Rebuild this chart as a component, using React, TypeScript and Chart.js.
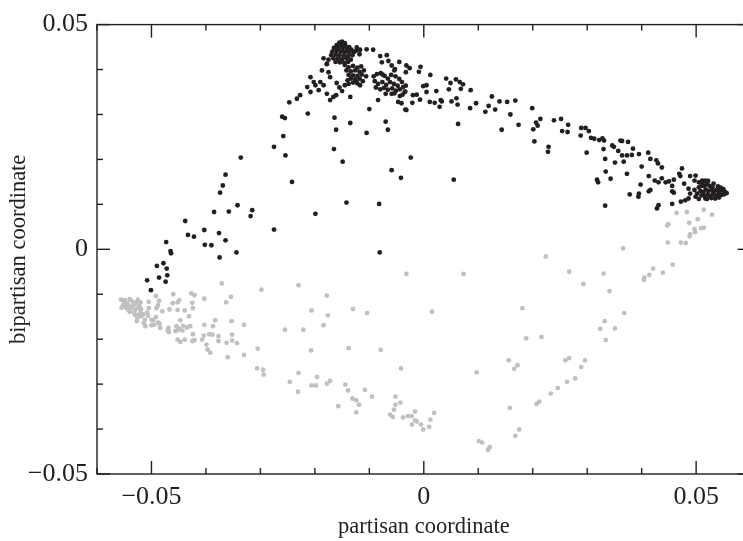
import { useEffect, useRef } from "react";
import { Chart, registerables } from "chart.js";

Chart.register(...registerables);

const xAxisTitle = "partisan coordinate";
const yAxisTitle = "bipartisan coordinate";
const xRange = [-0.06, 0.06];
const yRange = [-0.05, 0.05];
const xLabelTicks = [-0.05, 0, 0.05];
const yLabelTicks = [-0.05, 0, 0.05];
const xMarkTicks = [-0.06, -0.05, -0.04, -0.03, -0.02, -0.01, 0, 0.01, 0.02, 0.03, 0.04, 0.05, 0.06];
const yMarkTicks = [-0.05, -0.04, -0.03, -0.02, -0.01, 0, 0.01, 0.02, 0.03, 0.04, 0.05];

// upper (black) group
const upperArc: [number, number][] = [
  [-0.0213, 0.0302], [-0.026, 0.0295], [-0.0255, 0.0292], [-0.0258, 0.0252], [-0.0275, 0.0228], [-0.0254, 0.0209],
  [-0.0336, 0.0204], [-0.0364, 0.0166], [-0.0369, 0.0142], [-0.0374, 0.0126], [-0.0242, 0.015], [-0.0342, 0.0098],
  [-0.0385, 0.0083], [-0.0358, 0.0084], [-0.0315, 0.0087], [-0.0318, 0.0074], [-0.0438, 0.0063], [-0.0275, 0.0044],
  [-0.0433, 0.0032], [-0.0422, 0.0028], [-0.0403, 0.0043], [-0.0376, 0.0036], [-0.0364, 0.002], [-0.0402, 0.001],
  [-0.039, 0.0009], [-0.0344, -0.0007], [-0.0375, -0.0018], [-0.0473, 0.0016], [-0.0465, -0.0004], [-0.0464, -0.0009],
  [-0.0478, -0.0031], [-0.049, -0.0037], [-0.0472, -0.0043], [-0.0471, -0.0058], [-0.0486, -0.0063], [-0.0508, -0.0069],
  [-0.0474, -0.0072], [-0.0501, -0.0091],
  [-0.0081, -0.0007], [-0.0082, 0.0101], [-0.0142, 0.0104], [-0.0199, 0.0079], [-0.0059, 0.0176], [-0.0042, 0.0159],
  [-0.0024, 0.0204], [-0.0149, 0.0195], [-0.0165, 0.0223], [-0.0161, 0.0266], [-0.0105, 0.0259], [-0.0066, 0.0266],
  [-0.0164, 0.0293], [-0.0135, 0.0281], [-0.007, 0.0284], [-0.01, 0.0312], [-0.0247, 0.0327], [-0.0233, 0.0335],
  [-0.0227, 0.0343], [-0.0208, 0.0383], [-0.0202, 0.0372], [-0.0199, 0.0365], [-0.019, 0.0372], [-0.0184, 0.0365],
  [-0.0214, 0.0361], [-0.0193, 0.0354], [-0.0208, 0.035], [-0.0178, 0.0346], [-0.0161, 0.0343], [-0.0172, 0.0332],
  [-0.0166, 0.0339], [-0.0135, 0.0339], [-0.0138, 0.0368], [-0.0123, 0.0372], [-0.0117, 0.0365], [-0.0084, 0.0332],
  [-0.0047, 0.0328], [-0.0041, 0.0325], [-0.0032, 0.031], [-0.002, 0.0343], [-0.0013, 0.0344], [0.0005, 0.0365],
  [0.0005, 0.035], [0.0023, 0.0352], [0.0011, 0.0328], [0.002, 0.0326], [0.0029, 0.0317],
];

const upperPeak: [number, number][] = [
  [-0.0123, 0.0449], [-0.0117, 0.0444], [-0.0105, 0.0445], [-0.0093, 0.0444], [-0.008, 0.043], [-0.0068, 0.0432],
  [-0.0065, 0.0419], [-0.0077, 0.0416], [-0.0059, 0.0409], [-0.0053, 0.0401], [-0.0045, 0.0417], [-0.0032, 0.0409],
  [-0.0026, 0.0403], [-0.0006, 0.0406], [-0.0009, 0.0395], [0.0012, 0.0388], [-0.0184, 0.0425], [-0.0178, 0.0412],
  [-0.0187, 0.0398], [-0.0175, 0.0394], [-0.0172, 0.0383],
  [-0.0155, 0.046], [-0.015, 0.0462], [-0.0145, 0.0459], [-0.016, 0.0454], [-0.0152, 0.0454], [-0.0144, 0.0453],
  [-0.0137, 0.045], [-0.0165, 0.0448], [-0.0157, 0.0447], [-0.0149, 0.0448], [-0.0141, 0.0446], [-0.0133, 0.0444],
  [-0.0168, 0.044], [-0.016, 0.0441], [-0.0152, 0.044], [-0.0145, 0.0439], [-0.0137, 0.0438], [-0.0128, 0.0439],
  [-0.017, 0.0432], [-0.0162, 0.0433], [-0.0155, 0.0432], [-0.0147, 0.0431], [-0.0139, 0.043], [-0.0131, 0.0432],
  [-0.0166, 0.0425], [-0.0158, 0.0424], [-0.015, 0.0423], [-0.0142, 0.0425], [-0.0134, 0.0422], [-0.0162, 0.0417],
  [-0.0154, 0.0416], [-0.0146, 0.0415], [-0.0139, 0.0417], [-0.0175, 0.0422], [-0.0178, 0.0413], [-0.0124, 0.0442],
  [-0.0118, 0.0434],
  [-0.0145, 0.041], [-0.0138, 0.0405], [-0.013, 0.0408], [-0.0122, 0.0404], [-0.0115, 0.0407], [-0.0142, 0.0398],
  [-0.0134, 0.0396], [-0.0126, 0.0398], [-0.0118, 0.0395], [-0.011, 0.0398], [-0.0138, 0.0388], [-0.013, 0.0387],
  [-0.0122, 0.0386], [-0.0114, 0.0389], [-0.0134, 0.038], [-0.0126, 0.0378], [-0.0118, 0.038], [-0.013, 0.0371],
  [-0.0122, 0.0369], [-0.0112, 0.0374], [-0.014, 0.0376], [-0.0106, 0.0385],
  [-0.0092, 0.0385], [-0.0086, 0.039], [-0.0079, 0.0392], [-0.0072, 0.0386], [-0.0066, 0.038], [-0.006, 0.0388],
  [-0.0052, 0.0385], [-0.0045, 0.0379], [-0.004, 0.0372], [-0.009, 0.0374], [-0.0084, 0.0368], [-0.0076, 0.0372],
  [-0.0069, 0.0366], [-0.0062, 0.0372], [-0.0055, 0.0368], [-0.0048, 0.0364], [-0.0088, 0.036], [-0.008, 0.0356],
  [-0.0073, 0.0359], [-0.0066, 0.0355], [-0.0058, 0.0358], [-0.0051, 0.0353], [-0.0044, 0.0356], [-0.0038, 0.0361],
  [-0.0035, 0.035], [-0.007, 0.0346], [-0.0155, 0.036], [-0.015, 0.0352], [-0.016, 0.037], [-0.0145, 0.0365],
];

const upperSlope: [number, number][] = [
  [-0.0076, 0.0389], [-0.0054, 0.0398], [-0.0033, 0.0394], [0.0041, 0.038], [0.0049, 0.037], [0.0059, 0.0378],
  [0.0066, 0.0372], [0.0072, 0.0367], [0.0046, 0.0356], [0.0068, 0.0357], [0.0086, 0.0354], [-0.0001, 0.0363],
  [-0.0033, 0.0364], [-0.0034, 0.0351], [-0.0059, 0.0346], [-0.0054, 0.0347], [-0.0044, 0.0341], [-0.0039, 0.0344],
  [-0.0007, 0.0333], [-0.0021, 0.0326], [0.0031, 0.0332], [0.0033, 0.0329], [0.0051, 0.0329], [0.006, 0.0336],
  [0.0062, 0.0322], [-0.0034, 0.0311], [0.0085, 0.0314], [0.0096, 0.0325], [0.0113, 0.0306], [0.0119, 0.0319],
  [0.0125, 0.034], [0.0131, 0.0311], [0.0139, 0.0329], [0.0153, 0.0328], [0.0168, 0.0331], [0.0159, 0.03],
  [0.0199, 0.0314], [0.0206, 0.0282], [0.0209, 0.0275], [0.0214, 0.029], [0.0201, 0.0267], [0.0239, 0.0287],
  [0.0174, 0.0277], [0.0143, 0.0266], [0.0203, 0.024], [0.0229, 0.0228], [0.0228, 0.0217], [0.0063, 0.0279],
  [0.0055, 0.0155],
  [0.0252, 0.029], [0.0265, 0.0277], [0.0264, 0.0261], [0.0254, 0.0263], [0.0289, 0.027], [0.0297, 0.027],
  [0.0303, 0.0263], [0.0288, 0.0253], [0.0307, 0.0248], [0.0313, 0.0246], [0.0322, 0.0243], [0.0328, 0.0247],
  [0.0331, 0.0242], [0.0299, 0.0215], [0.033, 0.0223], [0.0346, 0.0231], [0.0349, 0.0228], [0.0361, 0.0242],
  [0.0364, 0.0241], [0.0375, 0.0239], [0.0357, 0.0219], [0.0364, 0.0209], [0.0373, 0.0209], [0.0382, 0.021],
  [0.0384, 0.0224], [0.0395, 0.0212], [0.0412, 0.0215], [0.0333, 0.0201], [0.0351, 0.0193], [0.0367, 0.0195],
  [0.04, 0.0184], [0.0416, 0.0201], [0.0427, 0.0198], [0.043, 0.0191], [0.0437, 0.0182], [0.0334, 0.0173],
  [0.0318, 0.0155], [0.032, 0.0149], [0.0343, 0.0157], [0.0373, 0.0168], [0.0413, 0.0163], [0.0424, 0.0153],
  [0.0431, 0.0149], [0.0437, 0.0158], [0.0444, 0.0149], [0.045, 0.0151], [0.0459, 0.0155], [0.0456, 0.0141],
  [0.0469, 0.0168], [0.0471, 0.0163], [0.0474, 0.018], [0.0489, 0.0163], [0.0478, 0.0146], [0.0398, 0.0144],
  [0.0395, 0.0124], [0.0394, 0.0117], [0.0378, 0.0122], [0.0413, 0.0129], [0.0416, 0.0132], [0.0456, 0.0129],
  [0.0459, 0.0126], [0.0486, 0.0135], [0.0333, 0.0097], [0.0428, 0.0091], [0.0431, 0.0098], [0.0456, 0.0101],
  [0.0472, 0.0106], [0.048, 0.0109], [0.0499, 0.0164], [0.0505, 0.0149], [0.0511, 0.0153], [0.0517, 0.0153],
  [0.0489, 0.0124], [0.0499, 0.0117], [0.0486, 0.0113], [0.0505, 0.0112], [0.0517, 0.0113], [0.0497, 0.0153],
];

const upperTip: [number, number][] = [
  [0.0505, 0.0138], [0.051, 0.0142], [0.0515, 0.014], [0.052, 0.0145], [0.0525, 0.0141], [0.053, 0.0138],
  [0.0508, 0.013], [0.0513, 0.0127], [0.0518, 0.0133], [0.0523, 0.013], [0.0528, 0.0133], [0.0533, 0.013],
  [0.0538, 0.0132], [0.0543, 0.0129], [0.0548, 0.0131], [0.0553, 0.0128], [0.0556, 0.0125], [0.0502, 0.0124],
  [0.051, 0.012], [0.0516, 0.0118], [0.0521, 0.0122], [0.0526, 0.0119], [0.0531, 0.0123], [0.0536, 0.012],
  [0.0541, 0.0123], [0.0546, 0.0121], [0.0551, 0.0122], [0.052, 0.0112], [0.0528, 0.0114], [0.0535, 0.0113],
  [0.0542, 0.0115], [0.0512, 0.0148], [0.0522, 0.0152], [0.0532, 0.0146], [0.054, 0.014], [0.0497, 0.0132],
  [0.0545, 0.0137], [0.055, 0.0134],
];

// lower (grey) group
const lowerLeft: [number, number][] = [
  [-0.0371, -0.0076], [-0.0298, -0.009], [-0.023, -0.008], [-0.0032, -0.0055], [-0.0178, -0.0103], [-0.0206, -0.0136],
  [-0.0176, -0.0147], [-0.013, -0.0133], [-0.0104, -0.0142], [-0.0255, -0.0179], [-0.0221, -0.0179], [-0.0184, -0.0169],
  [-0.0207, -0.0225], [-0.0138, -0.022], [-0.0079, -0.0224], [-0.0042, -0.0265], [-0.0306, -0.0265], [-0.0295, -0.0268],
  [-0.0294, -0.0279], [-0.0246, -0.0295], [-0.023, -0.0275], [-0.0231, -0.0317], [-0.0196, -0.0284], [-0.0206, -0.0303],
  [-0.0198, -0.0303], [-0.0178, -0.0299], [-0.0172, -0.0293], [-0.0144, -0.0301], [-0.0139, -0.0314], [-0.0131, -0.0332],
  [-0.0124, -0.0336], [-0.0119, -0.0346], [-0.0124, -0.0363], [-0.0157, -0.0349], [-0.0108, -0.0313], [-0.0095, -0.0328],
  [-0.0052, -0.0328], [-0.0043, -0.0341], [-0.0052, -0.0346], [-0.0055, -0.0357], [-0.0062, -0.0368], [-0.0057, -0.0373],
  [-0.0038, -0.0374], [-0.0029, -0.0371], [-0.0022, -0.0371], [-0.0016, -0.0361], [-0.0022, -0.039], [-0.0016, -0.0381],
  [-0.033, -0.0168], [-0.033, -0.0235], [-0.0305, -0.0221], [-0.0353, -0.016], [-0.0352, -0.019], [-0.0352, -0.0203],
  [-0.0343, -0.0209], [-0.036, -0.024], [-0.0362, -0.0208], [-0.0363, -0.0118], [-0.0354, -0.0106], [-0.0403, -0.011],
  [-0.0403, -0.0168], [-0.0387, -0.0171], [-0.0383, -0.0158], [-0.0394, -0.0189], [-0.0388, -0.019], [-0.0377, -0.0193],
  [-0.0377, -0.0204], [-0.0399, -0.0212], [-0.0397, -0.0223], [-0.0392, -0.023], [-0.0407, -0.0201], [-0.0404, -0.0192],
  [-0.0427, -0.0098], [-0.0421, -0.0102], [-0.0425, -0.0119], [-0.0424, -0.0131], [-0.0431, -0.0149], [-0.0439, -0.0136],
  [-0.0429, -0.0171], [-0.0435, -0.0174], [-0.0424, -0.0189], [-0.0421, -0.0202], [-0.0425, -0.0204], [-0.0439, -0.0201],
  [-0.0447, -0.0206], [-0.0452, -0.0201], [-0.046, -0.01], [-0.0449, -0.0113], [-0.0452, -0.0118], [-0.0461, -0.012],
  [-0.0467, -0.0134], [-0.0452, -0.0135], [-0.0447, -0.0158], [-0.0454, -0.0171], [-0.0449, -0.0177], [-0.0442, -0.017],
  [-0.0452, -0.018], [-0.0456, -0.0182], [-0.0468, -0.0184], [-0.047, -0.0181], [-0.0469, -0.0175], [-0.0443, -0.0181],
  [-0.0492, -0.0104], [-0.0486, -0.0115], [-0.0488, -0.0125], [-0.0491, -0.0131], [-0.048, -0.0138], [-0.0492, -0.0151],
  [-0.0488, -0.0163], [-0.0485, -0.0166], [-0.0484, -0.0175], [-0.0495, -0.0168], [-0.05, -0.0157], [-0.05, -0.0169],
  [-0.0505, -0.0117], [-0.0505, -0.0131], [-0.0508, -0.0141], [-0.0506, -0.0148],
];

const lowerCluster: [number, number][] = [
  [-0.0556, -0.0112], [-0.0549, -0.0113], [-0.054, -0.0111], [-0.0537, -0.0114], [-0.0525, -0.0112], [-0.0528, -0.0119],
  [-0.0552, -0.0124], [-0.0543, -0.0124], [-0.0531, -0.0123], [-0.0522, -0.0126], [-0.0555, -0.013], [-0.0546, -0.0131],
  [-0.0537, -0.013], [-0.0525, -0.0131], [-0.0519, -0.0133], [-0.054, -0.0139], [-0.0532, -0.0141], [-0.053, -0.0146],
  [-0.0523, -0.0146], [-0.0526, -0.0152], [-0.0519, -0.0149], [-0.0527, -0.016], [-0.0512, -0.0157], [-0.0514, -0.0164],
  [-0.0511, -0.0171], [-0.0497, -0.0158], [-0.055, -0.0118], [-0.0545, -0.012], [-0.0535, -0.0127], [-0.053, -0.0135],
  [-0.0542, -0.0135], [-0.0548, -0.0127], [-0.052, -0.014], [-0.0515, -0.0145], [-0.0533, -0.0118], [-0.052, -0.0118],
];

const lowerRight: [number, number][] = [
  [0.0464, 0.0081], [0.0483, 0.0083], [0.0514, 0.0088], [0.0529, 0.0077], [0.0447, 0.0053], [0.0449, 0.0056],
  [0.0487, 0.0059], [0.0503, 0.0067], [0.0497, 0.0045], [0.0498, 0.0038], [0.0489, 0.0033], [0.0488, 0.0029],
  [0.0509, 0.0047], [0.0514, 0.0048], [0.0448, 0.0015], [0.0472, 0.0015], [0.0481, 0.0014], [0.0366, 0.0002],
  [0.0224, -0.0016], [0.0073, -0.0055], [0.0267, -0.005], [0.0293, -0.0077], [0.033, -0.0054], [0.0341, -0.0093],
  [0.0405, -0.0063], [0.0404, -0.0068], [0.0414, -0.0057], [0.0421, -0.0043], [0.0439, -0.0052], [0.0457, -0.0034],
  [0.0015, -0.0139], [0.0181, -0.0131], [0.0188, -0.0198], [0.0216, -0.0195], [0.0332, -0.016], [0.0324, -0.0177],
  [0.0351, -0.0176], [0.0334, -0.0202], [0.0368, -0.0142], [0.0097, -0.0274], [0.0156, -0.0247], [0.0172, -0.0258],
  [0.0166, -0.0266], [0.026, -0.0247], [0.0267, -0.0242], [0.0296, -0.0247], [0.0289, -0.0262], [0.0278, -0.0287],
  [0.0263, -0.0295], [0.0246, -0.0309], [0.0233, -0.0321], [0.0212, -0.0339], [0.0207, -0.0344], [0.0158, -0.0353],
  [0.0168, -0.0415], [0.0175, -0.0401], [0.0101, -0.0427], [0.0107, -0.043], [0.0118, -0.0446], [0.0121, -0.044],
  [0.0019, -0.0364], [0.0012, -0.0379], [0.001, -0.0395], [-0.0005, -0.039], [-0.0001, -0.0401], [-0.0013, -0.0383],
];

const INK = "#231f20";
const GREY = "#c0c0c0";
const FONT = "'Liberation Serif', 'Times New Roman', serif";
const TICK_SIZE = 26;
const TITLE_SIZE = 22.5;

const fmt = (v: number) => (v === 0 ? "0" : v < 0 ? "\u2212" + Math.abs(v).toString() : v.toString());

const frameTicks = {
  id: "frameTicks",
  afterDatasetsDraw(chart: any) {
    const { ctx, chartArea: a, scales } = chart;
    const xs = scales.x;
    const ys = scales.y;
    ctx.save();
    ctx.strokeStyle = INK;
    ctx.lineWidth = 1.4;
    ctx.strokeRect(a.left, a.top, a.right - a.left, a.bottom - a.top);
    const seg = (x1: number, y1: number, x2: number, y2: number) => {
      ctx.beginPath();
      ctx.moveTo(x1, y1);
      ctx.lineTo(x2, y2);
      ctx.stroke();
    };
    for (const v of xMarkTicks) {
      const p = xs.getPixelForValue(v);
      const len = xLabelTicks.some((t) => Math.abs(t - v) < 1e-9) ? 13 : 6;
      seg(p, a.bottom, p, a.bottom - len);
      seg(p, a.top, p, a.top + len);
    }
    for (const v of yMarkTicks) {
      const p = ys.getPixelForValue(v);
      const len = yLabelTicks.some((t) => Math.abs(t - v) < 1e-9) ? 13 : 6;
      seg(a.left, p, a.left + len, p);
      seg(a.right, p, a.right - len, p);
    }
    ctx.restore();
  },
};

export default function App() {
  const ref = useRef<HTMLCanvasElement | null>(null);
  useEffect(() => {
    document.body.style.margin = "0";
    if (!ref.current) return;
    const toPts = (arr: [number, number][]) => arr.map(([x, y]) => ({ x, y }));
    const chart = new Chart(ref.current, {
      type: "scatter",
      data: {
        datasets: [
          {
            data: toPts([...lowerLeft, ...lowerCluster, ...lowerRight]),
            backgroundColor: GREY,
            borderWidth: 0,
            pointRadius: 2.4,
            pointHoverRadius: 2.4,
          },
          {
            data: toPts([...upperArc, ...upperPeak, ...upperSlope, ...upperTip]),
            backgroundColor: INK,
            borderWidth: 0,
            pointRadius: 2.4,
            pointHoverRadius: 2.4,
          },
        ],
      },
      options: {
        responsive: false,
        animation: false,
        events: [],
        layout: { padding: { top: 17, right: 1, left: 0, bottom: 0 } },
        plugins: { legend: { display: false }, tooltip: { enabled: false } },
        scales: {
          x: {
            type: "linear",
            min: xRange[0],
            max: xRange[1],
            grid: { display: false, drawTicks: false },
            border: { display: false },
            afterBuildTicks: (axis: any) => {
              axis.ticks = xLabelTicks.map((value) => ({ value }));
            },
            afterFit: (axis: any) => {
              axis.height = 67;
            },
            ticks: {
              autoSkip: false,
              maxRotation: 0,
              padding: 8,
              color: INK,
              font: { family: FONT, size: TICK_SIZE },
              callback: (v: any) => fmt(Number(v)),
            },
            title: {
              display: true,
              text: xAxisTitle,
              color: INK,
              font: { family: FONT, size: TITLE_SIZE },
              padding: { top: 0, bottom: 0 },
            },
          },
          y: {
            type: "linear",
            min: yRange[0],
            max: yRange[1],
            grid: { display: false, drawTicks: false },
            border: { display: false },
            afterBuildTicks: (axis: any) => {
              axis.ticks = yLabelTicks.map((value) => ({ value }));
            },
            afterFit: (axis: any) => {
              axis.width = 97;
            },
            ticks: {
              autoSkip: false,
              padding: 9,
              color: INK,
              font: { family: FONT, size: TICK_SIZE },
              callback: (v: any) => fmt(Number(v)),
            },
            title: {
              display: true,
              text: yAxisTitle,
              color: INK,
              font: { family: FONT, size: TITLE_SIZE },
              padding: { top: 6, bottom: 0 },
            },
          },
        },
      },
      plugins: [frameTicks],
    });
    return () => chart.destroy();
  }, []);
  return (
    <div style={{ width: 743, height: 541, overflow: "hidden", position: "relative", background: "#fff" }}>
      <canvas ref={ref} width={753} height={541} style={{ display: "block" }} />
    </div>
  );
}
